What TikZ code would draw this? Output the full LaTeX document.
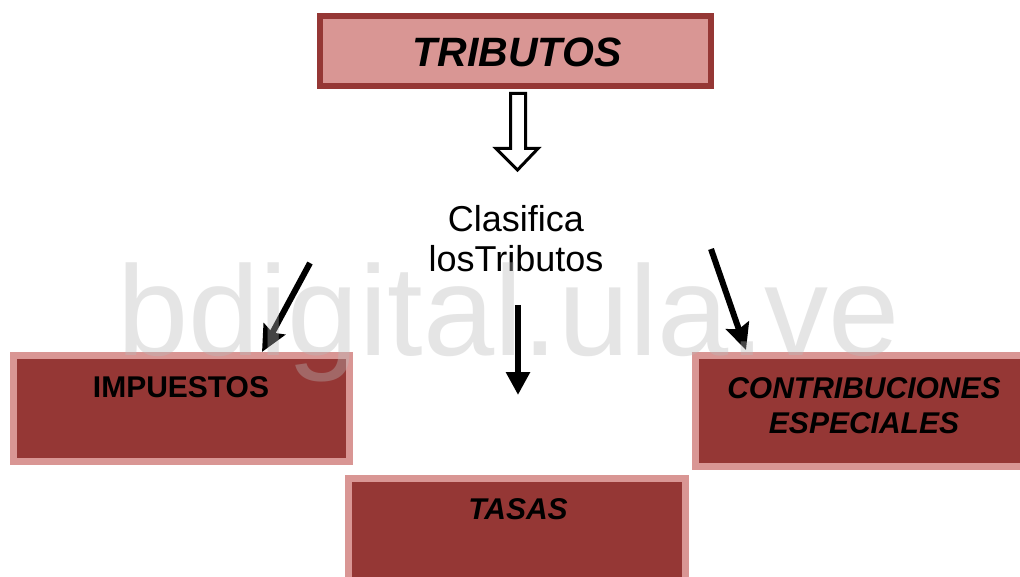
\documentclass[tikz,border=0pt]{standalone}
\usepackage{fontspec}
\setmainfont{Liberation Sans}
\usetikzlibrary{arrows.meta}
\definecolor{darkred}{HTML}{953735}
\definecolor{pinkred}{HTML}{D99694}
\tikzset{
  topbox/.style={draw=darkred, fill=pinkred, line width=6pt, minimum width=391pt, minimum height=70pt, inner sep=0pt},
  subbox/.style={draw=pinkred, fill=darkred, line width=7pt, inner sep=0pt},
  lbl/.style={inner sep=0pt, text=black, align=center},
  blackarrow/.style={line width=6pt, -{Stealth[length=26pt,width=24pt,inset=4pt]}},
  midarrow/.style={line width=6pt, -{Triangle[length=23pt,width=23pt]}},
}
\begin{document}
\begin{tikzpicture}[x=1pt,y=-1pt]
\useasboundingbox[fill=white] (0,0) rectangle (1020,577);
\begin{scope}
\clip (0,0) rectangle (1020,577);
% top box
\node[topbox] (trib) at (515.5,51) {};
\node[lbl, font=\fontsize{41}{45}\selectfont\bfseries\itshape] (tribt) at (517,52) {TRIBUTOS};
% hollow arrow
\draw[line width=3pt, fill=white, line join=miter] (510.5,93.5) -- (525.5,93.5) -- (525.5,148.5) -- (538,148.5) -- (517.5,170) -- (496,148.5) -- (510.5,148.5) -- cycle;
% middle text
\node[lbl, font=\fontsize{36}{40}\selectfont] (clas) at (516,239) {Clasifica\\losTributos};
% sub boxes
\node[subbox, minimum width=336pt, minimum height=106pt] (imp) at (181.5,408.5) {};
\node[lbl, font=\fontsize{30}{34}\selectfont\bfseries] (impt) at (181,387.5) {IMPUESTOS};
\node[subbox, minimum width=331pt, minimum height=111pt] (con) at (861,411) {};
\node[lbl, font=\fontsize{30}{35}\selectfont\bfseries\itshape] (cont) at (864,405.5) {CONTRIBUCIONES\\ESPECIALES};
\node[subbox, minimum width=337pt, minimum height=108pt] (tas) at (517,532.5) {};
\node[lbl, font=\fontsize{30}{34}\selectfont\bfseries\itshape] (tast) at (518,509) {TASAS};
% arrows
\coordinate (ls) at (310,263);
\coordinate (lt) at (262,352);
\coordinate (ms) at (518,305);
\coordinate (mt) at (518,395);
\coordinate (rs) at (711,249);
\coordinate (rt) at (746,350);
\draw[blackarrow] (ls) -- (lt);
\draw[midarrow] (ms) -- (mt);
\draw[blackarrow] (rs) -- (rt);
% watermark
\node[anchor=base west, inner sep=0pt, text=black!27, opacity=0.37, font=\fontsize{128}{130}\selectfont] (wm) at (117,355) {bdigital.ula.ve};
\end{scope}
\end{tikzpicture}
\end{document}
